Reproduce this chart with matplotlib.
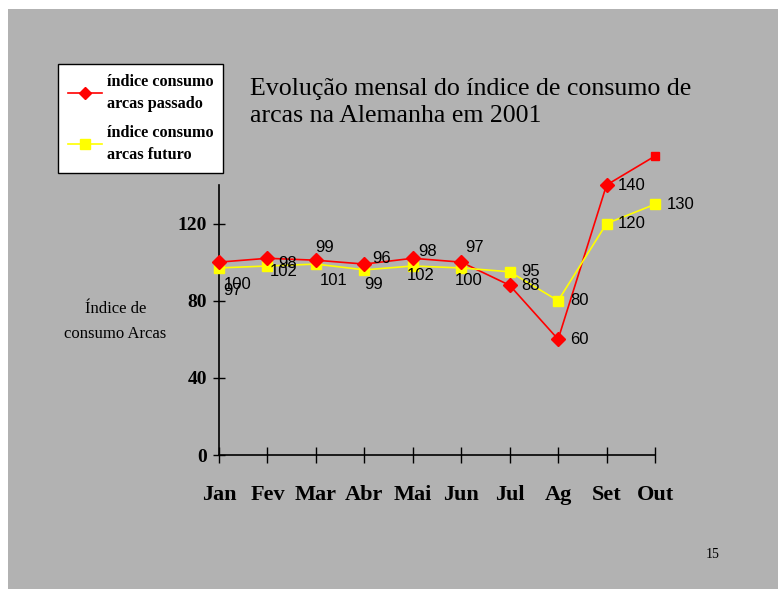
import matplotlib
matplotlib.use("Agg")
import matplotlib.pyplot as plt
from matplotlib.lines import Line2D

# data
months = ["Jan", "Fev", "Mar", "Abr", "Mai", "Jun", "Jul", "Ag", "Set", "Out"]
passado = [100, 102, 101, 99, 102, 100, 88, 60, 140, 155]
futuro = [97, 98, 99, 96, 98, 97, 95, 80, 120, 130]
yticks = [0, 40, 80, 120]

# label offsets in pixels (dx, dy up), as placed on the slide
off_passado = [(19, -22), (16, -13), (18, -20), (9, -20), (8, -17), (7, -18),
               (21, 0), (21, 0), (25, 0), (26, 1)]
off_futuro = [(14, -23), (20, 2), (9, 17), (17, 11), (15, 15), (13, 20),
              (21, 0), (21, 0), (25, 0), (26, 0)]

bg = "#b2b2b2"
serif = ["Liberation Serif", "DejaVu Serif"]
sans = ["Liberation Sans", "DejaVu Sans"]

fig = plt.figure(figsize=(7.78, 5.89), dpi=100, facecolor="white")
# grey slide panel
fig.patches.append(plt.Rectangle((8 / 778, 0), 1, 1 - 9 / 589, transform=fig.transFigure,
                                 facecolor=bg, edgecolor="none", zorder=-5))

ax = fig.add_axes([219 / 778, 1 - 455 / 589, 436 / 778, 270 / 589])
ax.set_facecolor("none")
ax.set_zorder(2)
x = list(range(len(months)))

ax.plot(x, passado, color="red", lw=1.2, zorder=3, clip_on=False)
ax.plot(x[:-1], passado[:-1], ls="none", marker="D", ms=7, color="red", zorder=4, clip_on=False)
ax.plot(x[-1:], passado[-1:], ls="none", marker="s", ms=5.5, color="red", zorder=4, clip_on=False)
ax.plot(x, futuro, color="yellow", lw=1.2, marker="s", ms=7.5, zorder=3, clip_on=False)

for i in x:
    ax.annotate(str(passado[i]), (x[i], passado[i]), xytext=off_passado[i],
                textcoords="offset pixels", ha="center", va="center",
                fontsize=12, family=sans, color="black", zorder=5)
    ax.annotate(str(futuro[i]), (x[i], futuro[i]), xytext=off_futuro[i],
                textcoords="offset pixels", ha="center", va="center",
                fontsize=12, family=sans, color="black", zorder=5)

ax.set_xlim(0, len(months) - 1)
ax.set_ylim(0, 140)
ax.set_xticks(x)
ax.set_xticklabels(months, fontsize=16, fontweight="bold", family=serif)
ax.set_yticks(yticks)
ax.set_yticklabels([str(v) for v in yticks], fontsize=14, fontweight="bold", family=serif)
ax.tick_params(axis="x", direction="inout", length=11, width=1, pad=16)
ax.tick_params(axis="y", direction="inout", length=9, width=1, pad=4)
for s in ["top", "right"]:
    ax.spines[s].set_visible(False)
for s in ["left", "bottom"]:
    ax.spines[s].set_linewidth(1.2)

ax.set_ylabel("Índice de\nconsumo Arcas", rotation=0, fontsize=12, family=serif,
              ha="center", va="center", linespacing=1.7)
ax.yaxis.set_label_coords(-0.238, 0.495)

fig.text(250 / 778, 1 - 78 / 589, "Evolução mensal do índice de consumo de\narcas na Alemanha em 2001",
         ha="left", va="top", fontsize=18.6, family=serif, linespacing=1.32)

handles = [Line2D([], [], color="red", marker="D", ms=6, lw=1.2),
           Line2D([], [], color="yellow", marker="s", ms=7, lw=1.2)]
leg = fig.legend(handles, ["índice consumo\narcas passado", "índice consumo\narcas futuro"],
                 loc="upper left", bbox_to_anchor=(58 / 778, 1 - 64 / 589),
                 prop={"family": serif, "weight": "bold", "size": 11.7},
                 frameon=True, fancybox=False, edgecolor="black", facecolor="white",
                 framealpha=1, borderaxespad=0, handlelength=2.1, handletextpad=0.3,
                 labelspacing=0.8, borderpad=0.6)
leg.get_frame().set_linewidth(1.0)
for t in leg.get_texts():
    t.set_linespacing(1.5)

fig.text(713 / 778, 1 - 555 / 589, "15", ha="center", va="center", fontsize=10, family=serif)

fig.savefig("out.png", dpi=100, facecolor="white")
